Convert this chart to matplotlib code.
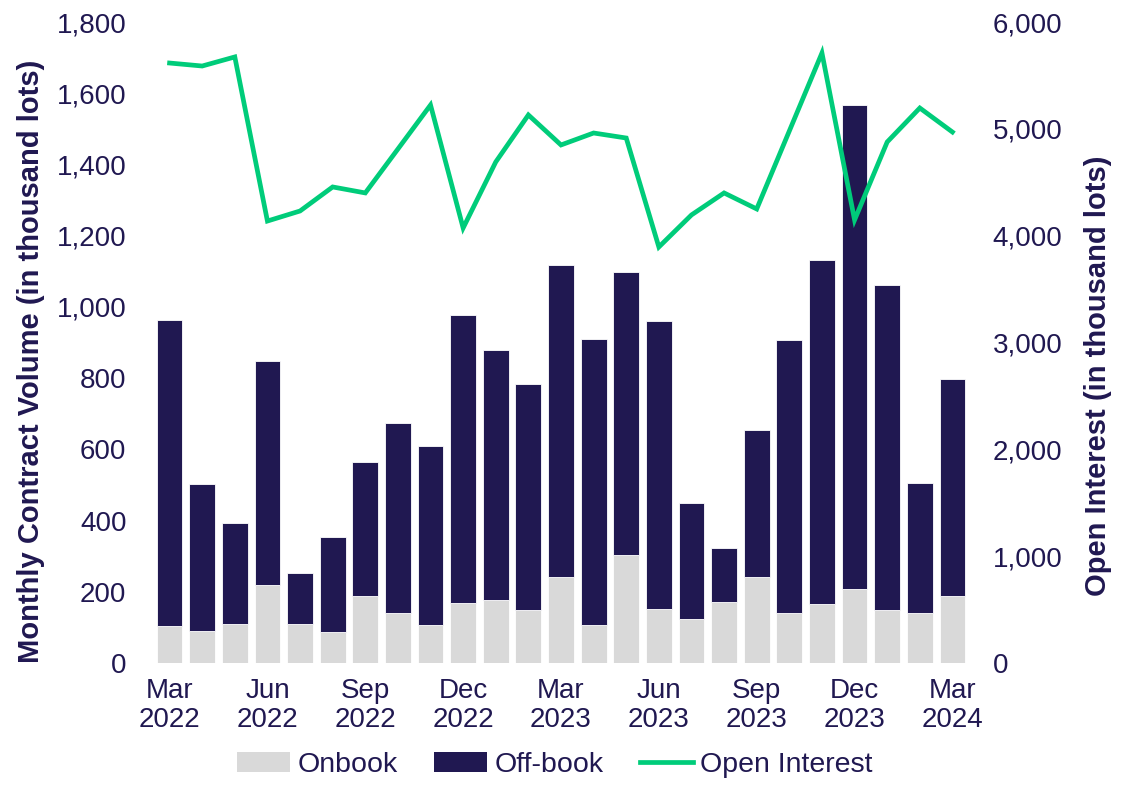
import matplotlib
matplotlib.use("Agg")
import matplotlib.pyplot as plt
from matplotlib.lines import Line2D
from matplotlib.patches import Patch

plt.rcParams['font.family'] = ['Liberation Sans', 'DejaVu Sans']

months = ["Mar 2022", "Apr 2022", "May 2022", "Jun 2022", "Jul 2022", "Aug 2022",
          "Sep 2022", "Oct 2022", "Nov 2022", "Dec 2022", "Jan 2023", "Feb 2023",
          "Mar 2023", "Apr 2023", "May 2023", "Jun 2023", "Jul 2023", "Aug 2023",
          "Sep 2023", "Oct 2023", "Nov 2023", "Dec 2023", "Jan 2024", "Feb 2024",
          "Mar 2024"]
total = [963, 503, 393, 848, 253, 354, 564, 674, 609, 977, 879, 783,
         1118, 910, 1098, 960, 449, 323, 654, 907, 1132, 1567, 1061, 505, 797]
onbook = [104, 90, 110, 219, 110, 87, 188, 140, 107, 168, 177, 149,
          241, 107, 303, 152, 124, 171, 241, 140, 166, 208, 149, 140, 188]
open_interest = [5616, 5588, 5673, 4137, 4231, 4456, 4400, 4811, 5223, 4072, 4690, 5130,
                 4849, 4961, 4914, 3894, 4194, 4400, 4250, 4980, 5710, 4147, 4877, 5195, 4970]
offbook = [t - o for t, o in zip(total, onbook)]

navy = "#201851"
grey = "#d9d9d9"
green = "#00cc7a"

fig = plt.figure(figsize=(11.27, 7.92), dpi=100)
ax = fig.add_axes([150/1127, 1 - 663/792, 822/1127, 641/792])
x = list(range(len(months)))
ax.bar(x, onbook, width=0.79, color=grey, edgecolor='white', linewidth=0.6)
ax.bar(x, offbook, bottom=onbook, width=0.79, color=navy, edgecolor='white', linewidth=0.6)
ax.set_ylim(0, 1800)
ax.set_xlim(-0.6, 24.6)
ax.set_yticks(range(0, 1801, 200))
ax.set_yticklabels([f"{v:,}" for v in range(0, 1801, 200)])
tick_idx = list(range(0, 25, 3))
ax.set_xticks(tick_idx)
ax.set_xticklabels([months[i].replace(" ", "\n") for i in tick_idx], linespacing=1.15)
for s in ax.spines.values():
    s.set_visible(False)
ax.tick_params(axis='both', length=0, labelsize=20, colors=navy)
ax.tick_params(axis='y', pad=17)
ax.tick_params(axis='x', pad=11)
ax.set_ylabel("Monthly Contract Volume (in thousand lots)", fontsize=21,
              fontweight='bold', color=navy)
ax.yaxis.set_label_coords(-(150 - 45) / 822, (663 - 361) / 641)

ax2 = ax.twinx()
ax2.plot(x, open_interest, color=green, linewidth=3.4, solid_joinstyle='miter')
ax2.set_ylim(0, 6000)
ax2.set_yticks(range(0, 6001, 1000))
ax2.set_yticklabels([f"{v:,}" for v in range(0, 6001, 1000)])
for s in ax2.spines.values():
    s.set_visible(False)
ax2.tick_params(axis='y', length=0, labelsize=20, colors=navy, pad=15)
ax2.set_ylabel("Open Interest (in thousand lots)", fontsize=21, fontweight='bold',
               color=navy, rotation=90)
ax2.yaxis.set_label_coords(1 + (1084 - 972) / 822, (663 - 376) / 641)

handles = [Patch(facecolor=grey, label="Onbook"),
           Patch(facecolor=navy, label="Off-book"),
           Line2D([0], [0], color=green, linewidth=3.4, label="Open Interest")]
leg = fig.legend(handles=handles, loc='center', bbox_to_anchor=(555/1127, 1 - 765/792),
                 ncol=3, frameon=False, fontsize=20.5, handlelength=1.85,
                 handletextpad=0.25, columnspacing=1.3, borderpad=0)
for t in leg.get_texts():
    t.set_color(navy)

fig.savefig("out.png", dpi=100)
